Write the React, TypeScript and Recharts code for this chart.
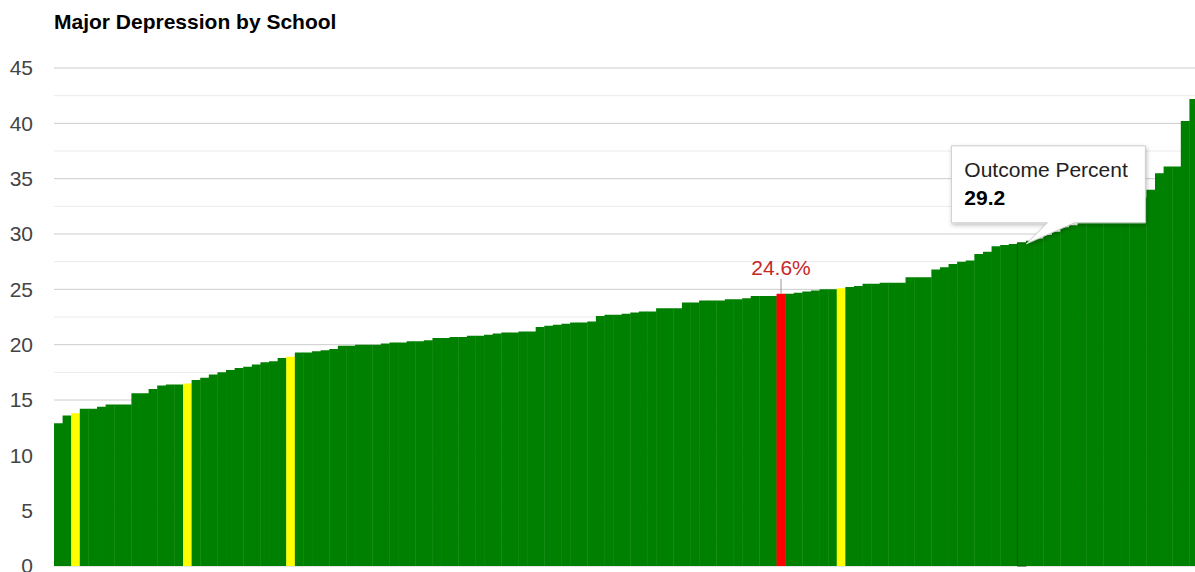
import { BarChart, Bar, XAxis, YAxis, CartesianGrid, Cell, LabelList } from "recharts";

// Outcome percent per school, sorted ascending
const outcomePercent = [
  12.9, 13.6, 13.8, 14.2, 14.2, 14.4, 14.6, 14.6, 14.6, 15.6,
  15.6, 16.0, 16.3, 16.4, 16.4, 16.5, 16.8, 17.0, 17.3, 17.5,
  17.7, 17.9, 18.0, 18.2, 18.4, 18.5, 18.8, 18.9, 19.3, 19.3,
  19.4, 19.5, 19.6, 19.9, 19.9, 20.0, 20.0, 20.0, 20.1, 20.2,
  20.2, 20.3, 20.3, 20.4, 20.6, 20.6, 20.7, 20.7, 20.8, 20.8,
  20.9, 21.0, 21.1, 21.1, 21.2, 21.2, 21.6, 21.7, 21.8, 21.9,
  22.0, 22.0, 22.1, 22.6, 22.7, 22.7, 22.8, 22.9, 23.0, 23.0,
  23.3, 23.3, 23.3, 23.8, 23.8, 24.0, 24.0, 24.0, 24.1, 24.1,
  24.2, 24.4, 24.4, 24.4, 24.6, 24.6, 24.7, 24.8, 24.9, 25.0,
  25.0, 25.1, 25.2, 25.3, 25.5, 25.5, 25.6, 25.6, 25.6, 26.1,
  26.1, 26.1, 26.8, 27.0, 27.3, 27.5, 27.6, 28.2, 28.4, 28.9,
  29.0, 29.1, 29.2, 29.4, 29.6, 29.9, 30.2, 30.6, 30.8, 31.1,
  31.3, 31.5, 31.8, 32.1, 32.4, 32.8, 33.3, 34.0, 35.5, 36.1,
  36.1, 40.2, 42.2,
];
const schools = outcomePercent.map((_, i) => `School ${i + 1}`);

const selectedIndex = 84; // red bar with annotation
const comparisonIndexes = [2, 15, 27, 91]; // yellow bars
const hoveredIndex = 112; // bar showing the tooltip

// gridlines every 2.5, labels only on multiples of 5
const gridTicks = [0, 2.5, 5, 7.5, 10, 12.5, 15, 17.5, 20, 22.5, 25, 27.5, 30, 32.5, 35, 37.5, 40, 42.5, 45];

const data = schools.map((school, i) => ({ school, value: outcomePercent[i] }));

const FONT = "'Liberation Sans', Arial, sans-serif";

function barColor(i: number) {
  if (i === selectedIndex) return "#ff0000";
  if (comparisonIndexes.includes(i)) return "#ffff00";
  return "#008000";
}

function gridLine(props: any) {
  const { x1, x2, y1, y2, index } = props;
  const major = index % 2 === 0;
  return (
    <line
      key={`g-${index}`}
      x1={x1}
      x2={x2}
      y1={y1}
      y2={y2}
      stroke={major ? "#cccccc" : "#ebebeb"}
      strokeWidth={1}
    />
  );
}

function renderLabel(props: any) {
  const { x, y, width, value, index } = props;
  if (index === selectedIndex) {
    const cx = x + width / 2;
    return (
      <g>
        <line x1={cx} x2={cx} y1={y - 15} y2={y} stroke="#999" strokeWidth={1} />
        <text x={cx} y={y - 19} textAnchor="middle" fontFamily={FONT} fontSize={21} fill="#c62828">
          {`${value}%`}
        </text>
      </g>
    );
  }
  if (index === hoveredIndex) {
    const tipX = x + width;
    const tipY = y + 1;
    const left = tipX - 75;
    const top = tipY - 98;
    const right = left + 194;
    const bottom = top + 77;
    const d = `M${left},${top} H${right} V${bottom} H${tipX + 48} L${tipX},${tipY} L${tipX + 21},${bottom} H${left} Z`;
    return (
      <g>
        <defs>
          <filter id="tipShadow" x="-10%" y="-10%" width="130%" height="140%">
            <feDropShadow dx="1" dy="2" stdDeviation="2" floodColor="#000" floodOpacity="0.25" />
          </filter>
        </defs>
        <path d={d} fill="#fff" stroke="#ccc" strokeWidth={1} filter="url(#tipShadow)" />
        <text x={left + 13} y={top + 31} fontFamily={FONT} fontSize={21} fill="#222">
          Outcome Percent
        </text>
        <text x={left + 13} y={top + 59} fontFamily={FONT} fontSize={21} fontWeight="bold" fill="#000">
          {value}
        </text>
      </g>
    );
  }
  return null;
}

export default function App() {
  return (
    <div
      style={{
        position: "absolute",
        left: 0,
        top: 0,
        width: 1195,
        height: 572,
        overflow: "hidden",
        background: "#fff",
      }}
    >
      <div
        style={{
          position: "absolute",
          left: 54,
          top: 11,
          fontFamily: FONT,
          fontSize: 21,
          lineHeight: "21px",
          fontWeight: "bold",
          color: "#000",
        }}
      >
        Major Depression by School
      </div>
      <BarChart
        width={1198}
        height={572}
        data={data}
        margin={{ top: 68, right: 0, bottom: 6, left: 0 }}
        barCategoryGap={0}
      >
        <CartesianGrid vertical={false} horizontal={gridLine} />
        <XAxis dataKey="school" height={0} tick={false} tickLine={false} axisLine={{ stroke: "#888" }} />
        <YAxis
          width={54}
          domain={[0, 45]}
          ticks={gridTicks}
          interval={0}
          tickLine={false}
          axisLine={false}
          tickSize={0}
          tickMargin={21}
          tickFormatter={(v: number) => (v % 5 === 0 ? String(v) : "")}
          tick={{ fontSize: 21, fill: "#444", fontFamily: FONT }}
        />
        <Bar dataKey="value" isAnimationActive={false}>
          {data.map((_, i) => (
            <Cell
              key={i}
              fill={barColor(i)}
              stroke={i === hoveredIndex ? "#005a00" : undefined}
              strokeWidth={i === hoveredIndex ? 1 : 0}
            />
          ))}
          <LabelList dataKey="value" content={renderLabel} />
        </Bar>
      </BarChart>
    </div>
  );
}
